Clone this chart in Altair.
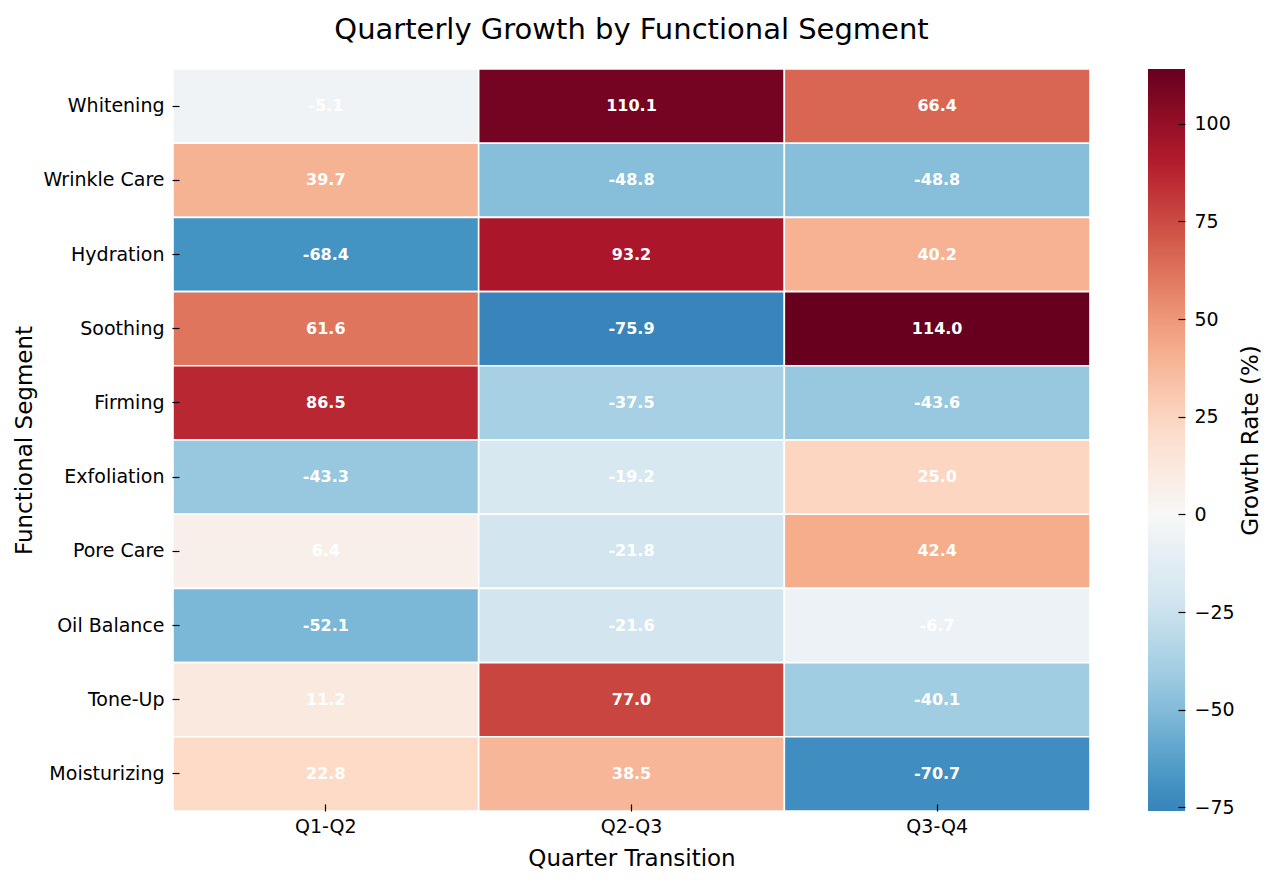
import altair as alt
import pandas as pd

segments = ["Whitening", "Wrinkle Care", "Hydration", "Soothing", "Firming",
            "Exfoliation", "Pore Care", "Oil Balance", "Tone-Up", "Moisturizing"]
transitions = ["Q1-Q2", "Q2-Q3", "Q3-Q4"]
q1_q2 = [-5.1, 39.7, -68.4, 61.6, 86.5, -43.3, 6.4, -52.1, 11.2, 22.8]
q2_q3 = [110.1, -48.8, 93.2, -75.9, -37.5, -19.2, -21.8, -21.6, 77.0, 38.5]
q3_q4 = [66.4, -48.8, 40.2, 114.0, -43.6, 25.0, 42.4, -6.7, -40.1, -70.7]
cbar_ticks = [-75, -50, -25, 0, 25, 50, 75, 100]

rows = []
for i, s in enumerate(segments):
    for t, col in zip(transitions, [q1_q2, q2_q3, q3_q4]):
        rows.append({"segment": s, "transition": t, "value": col[i],
                     "label": f"{col[i]:.1f}"})
df = pd.DataFrame(rows)

# RdBu_r (ColorBrewer 11) centred at 0, as seaborn does with center=0
rdbu_r = ["#053061", "#2166ac", "#4393c3", "#92c5de", "#d1e5f0", "#f7f7f7",
          "#fddbc7", "#f4a582", "#d6604d", "#b2182b", "#67001f"]
vmin, vmax = float(df["value"].min()), float(df["value"].max())
vr = max(vmax, -vmin)

def hex2rgb(h):
    return [int(h[k:k + 2], 16) for k in (1, 3, 5)]

def cmap(p):
    p = min(max(p, 0), 1) * 10
    i = min(int(p), 9)
    f = p - i
    a, b = hex2rgb(rdbu_r[i]), hex2rgb(rdbu_r[i + 1])
    c = [round(a[k] + (b[k] - a[k]) * f) for k in range(3)]
    return "#%02x%02x%02x" % tuple(c)

stops = [vmin] + [(k / 10 - 0.5) * 2 * vr for k in range(11) if (k / 10 - 0.5) * 2 * vr > vmin]
stops = [s for s in stops if s <= vmax + 1e-9]
if stops[-1] < vmax:
    stops.append(vmax)
colors = [cmap((s + vr) / (2 * vr)) for s in stops]

FONT = "DejaVu Sans"
W, H = 917, 742
TICK_FS = 19
TITLE_FS = 23

color_scale = alt.Scale(domain=stops, range=colors, interpolate="rgb")

base = alt.Chart(df)

rect = base.mark_rect(stroke="white", strokeWidth=1.6).encode(
    x=alt.X("transition:N", sort=transitions, title="Quarter Transition",
            scale=alt.Scale(paddingInner=0, paddingOuter=0),
            axis=alt.Axis(labelAngle=0, labelFontSize=TICK_FS, titleFontSize=TITLE_FS,
                          labelFont=FONT, titleFont=FONT, domain=False,
                          offset=-7, tickSize=7, tickWidth=1.2, zindex=1,
                          tickColor="black", labelColor="black",
                          titleColor="black", labelPadding=6, titlePadding=11,
                          titleFontWeight="normal")),
    y=alt.Y("segment:N", sort=segments, title="Functional Segment",
            scale=alt.Scale(paddingInner=0, paddingOuter=0),
            axis=alt.Axis(labelFontSize=TICK_FS, titleFontSize=TITLE_FS,
                          labelFont=FONT, titleFont=FONT, domain=False,
                          offset=-6, tickSize=7, tickWidth=1.2, zindex=1,
                          tickColor="black", labelColor="black",
                          titleColor="black", labelPadding=8, titlePadding=6,
                          titleFontWeight="normal")),
    color=alt.Color("value:Q", scale=color_scale,
                    legend=alt.Legend(orient="none", legendX=975, legendY=0,
                                      direction="vertical", gradientLength=H,
                                      gradientThickness=37, labelExpr="''",
                                      labelOpacity=0, title=None, padding=0,
                                      gradientStrokeWidth=0)),
)

text = base.mark_text(color="white", fontWeight="bold", font=FONT,
                      fontSize=16).encode(
    x=alt.X("transition:N", sort=transitions),
    y=alt.Y("segment:N", sort=segments),
    text=alt.Text("label:N"),
)

heat = alt.layer(rect, text)

cbar_df = pd.DataFrame({"v": cbar_ticks})
cbar_axis = alt.Chart(cbar_df).mark_point(opacity=0).encode(
    y=alt.Y("v:Q", scale=alt.Scale(domain=[vmin, vmax], nice=False, zero=False),
            title="Growth Rate (%)",
            axis=alt.Axis(orient="right", offset=88, values=cbar_ticks,
                          domain=False, grid=False, tickSize=7, tickWidth=1.2,
                          zindex=1, tickColor="black", labelColor="black",
                          labelFontSize=TICK_FS, labelFont=FONT, titleFont=FONT,
                          titleFontSize=TITLE_FS, titleColor="black",
                          titleFontWeight="normal", titleAngle=270,
                          titleBaseline="top", titlePadding=5,
                          labelPadding=9)),
)

chart = alt.layer(heat, cbar_axis).resolve_scale(y="independent").properties(
    width=W, height=H,
    padding={"left": 165, "top": 61, "right": 180, "bottom": 60},
    autosize=alt.AutoSizeParams(type="none"),
    title=alt.TitleParams("Quarterly Growth by Functional Segment",
                          fontSize=29, font=FONT, fontWeight="normal",
                          color="black", anchor="middle", frame="group",
                          offset=23),
).configure_view(stroke=None)

chart.save("out.html", embed_options={"renderer": "svg", "actions": False})
